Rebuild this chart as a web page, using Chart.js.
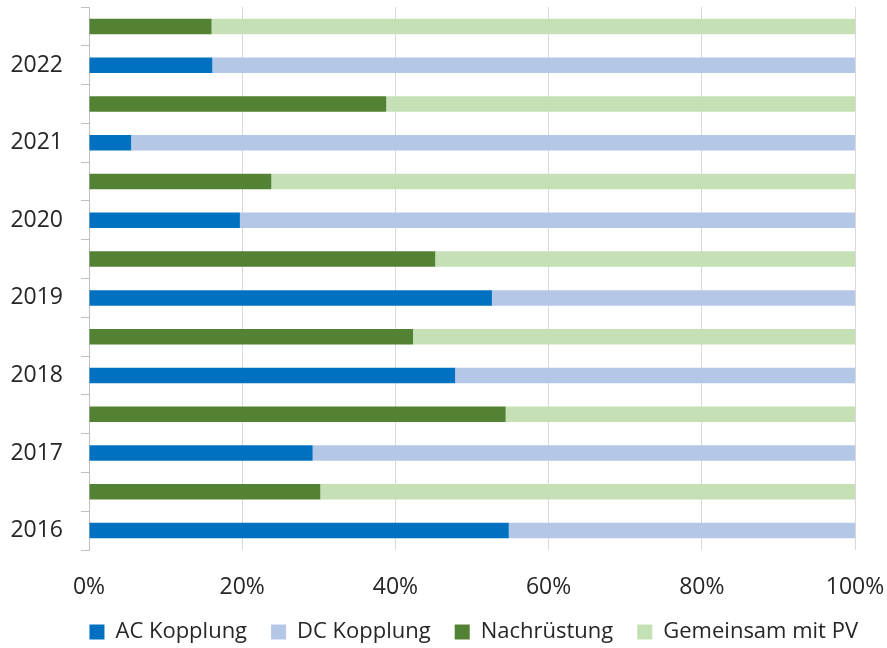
<!DOCTYPE html>
<html>
<head>
<meta charset="utf-8">
<script src="https://cdn.jsdelivr.net/npm/chart.js@4/dist/chart.umd.min.js"></script>
<style>
html,body{margin:0;padding:0;background:#fff;}
#wrap{width:887px;height:648px;}
</style>
</head>
<body>
<div id="wrap"><canvas id="c" width="887" height="648"></canvas></div>
<script>
const years = ['2016','2017','2018','2019','2020','2021','2022'];
const acShare = [54.8, 29.2, 47.8, 52.6, 19.7, 5.5, 16.1];
const nachShare = [30.2, 54.4, 42.3, 45.2, 23.8, 38.8, 16.0];
const seriesNames = ['AC Kopplung','DC Kopplung','Nachrüstung','Gemeinsam mit PV'];
const xTicks = [0,20,40,60,80,100];

// rows top to bottom: for each year (newest first) the green row, then the blue row
const labels = [], ac = [], dc = [], nach = [], gem = [];
for (let i = years.length - 1; i >= 0; i--) {
  labels.push('');
  ac.push(null); dc.push(null); nach.push(nachShare[i]); gem.push(100 - nachShare[i]);
  labels.push(years[i]);
  ac.push(acShare[i]); dc.push(100 - acShare[i]); nach.push(null); gem.push(null);
}

const FONT = 'Open Sans';
function zeroPad(s){ s.paddingTop = 0; s.paddingBottom = 0; s.paddingLeft = 0; s.paddingRight = 0; }

new Chart(document.getElementById('c'), {
  type: 'bar',
  data: {
    labels: labels,
    datasets: [
      {label: seriesNames[0], data: ac, backgroundColor: '#0070C0'},
      {label: seriesNames[1], data: dc, backgroundColor: '#B4C7E7'},
      {label: seriesNames[2], data: nach, backgroundColor: '#548235'},
      {label: seriesNames[3], data: gem, backgroundColor: '#C5E0B4'}
    ]
  },
  options: {
    indexAxis: 'y',
    responsive: false,
    animation: false,
    datasets: {bar: {categoryPercentage: 1, barPercentage: 0.4, borderWidth: 0}},
    layout: {padding: {top: 7, right: 5, left: 0, bottom: -5}},
    scales: {
      x: {
        stacked: true, min: 0, max: 100,
        afterBuildTicks: (ax) => { ax.ticks = xTicks.map(v => ({value: v})); },
        afterFit: (s) => { s.height = 47; zeroPad(s); s.paddingRight = 32; },
        ticks: {callback: v => v + '%', color: '#262626', font: {family: FONT, size: 23}, padding: 24, maxRotation: 0},
        grid: {color: '#d9d9d9', drawTicks: false, lineWidth: 1},
        border: {display: false}
      },
      y: {
        stacked: true,
        afterFit: (s) => { s.width = 89; zeroPad(s); },
        ticks: {color: '#262626', font: {family: FONT, size: 23}, padding: 18, autoSkip: false},
        grid: {drawOnChartArea: false, color: '#bfbfbf', tickLength: 8, offset: true},
        border: {display: true, color: '#bfbfbf'}
      }
    },
    plugins: {
      legend: {
        position: 'bottom',
        align: 'end',
        labels: {boxWidth: 15, boxHeight: 15, color: '#262626', font: {family: FONT, size: 22}, padding: 24}
      },
      tooltip: {enabled: false}
    }
  }
});
</script>
</body>
</html>
